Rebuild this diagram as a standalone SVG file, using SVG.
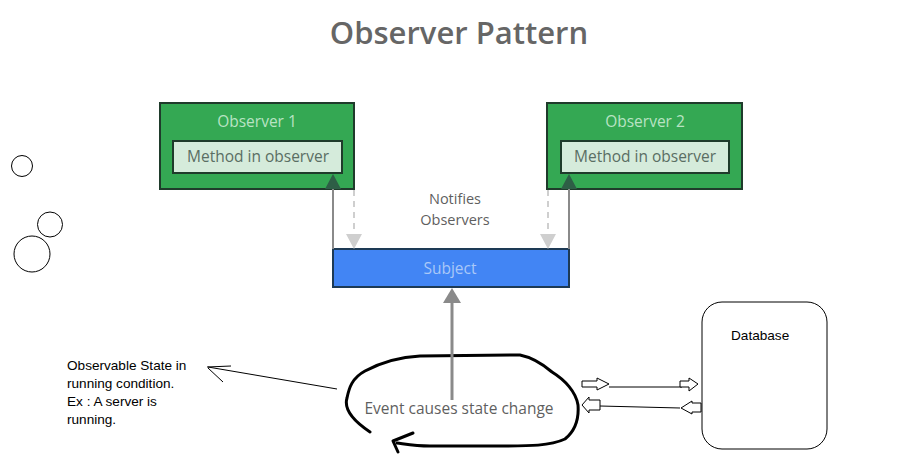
<svg xmlns="http://www.w3.org/2000/svg" width="898" height="461" viewBox="0 0 898 461">
<style>
.obs{fill:#34a853;stroke:#1f3b2b;stroke-width:2}
.inner{fill:#d5ebdb;stroke:#1f3b2b;stroke-width:2}
.otitle{font-family:"Open Sans",sans-serif;font-size:15.5px;fill:#b9e3c3;text-anchor:middle}
.mtext{font-family:"Open Sans",sans-serif;font-size:15.5px;fill:#5a6e63;text-anchor:middle}
.gray{font-family:"Open Sans",sans-serif;font-size:15.5px;fill:#5f5f5f;text-anchor:middle}
.note{font-family:"Liberation Sans",sans-serif;font-size:13.6px;fill:#000}
.thin{fill:none;stroke:#000;stroke-width:1}
.hollow{fill:#fff;stroke:#000;stroke-width:1}
</style>
<rect width="898" height="461" fill="#fff"/>
<text x="459" y="44" font-family="'Open Sans',sans-serif" font-size="31" font-weight="600" fill="#666" text-anchor="middle">Observer Pattern</text>

<g id="observer1">
<rect class="obs" x="160" y="103" width="194" height="86"/>
<text class="otitle" x="257" y="127">Observer 1</text>
<rect class="inner" x="173" y="141" width="169" height="32"/>
<text class="mtext" x="258" y="162">Method in observer</text>
</g>
<g id="observer2">
<rect class="obs" x="547" y="103" width="195" height="86"/>
<text class="otitle" x="645" y="127">Observer 2</text>
<rect class="inner" x="561" y="141" width="168" height="32"/>
<text class="mtext" x="645" y="162">Method in observer</text>
</g>
<g id="subject">
<rect x="333" y="249" width="236" height="38" fill="#4285f4" stroke="#1d3a55" stroke-width="2"/>
<text x="450" y="274" font-family="'Open Sans',sans-serif" font-size="15.5" fill="#aac8f8" text-anchor="middle">Subject</text>
</g>
<g id="notifies">
<text class="gray" font-size="14.5" style="font-size:14.5px"><tspan x="455" y="204">Notifies</tspan><tspan x="455" y="225">Observers</tspan></text>
</g>
<g id="event">
<text class="gray" x="459" y="414" fill="#6b6b6b">Event causes state change</text>
<path d="M370,432 C352,420 344,408 347,398 C349,388 352,378 365,371 C380,363 400,357 420,356 L520,355 C535,358 545,366 552,372 C565,380 576,392 578,405 C579,418 576,430 565,439 C550,446 530,446 500,446 L430,446 C415,446 405,444 397,443" fill="none" stroke="#000" stroke-width="3" stroke-linejoin="round" stroke-linecap="round"/>
<path d="M413,433 L393,441 L398,452" fill="none" stroke="#000" stroke-width="3" stroke-linejoin="round" stroke-linecap="round"/>
</g>
<g id="connectors">
<line x1="333" y1="249" x2="333" y2="183" stroke="#8a8a8a" stroke-width="2"/>
<path d="M325,189 L333,174 L341,189 Z" fill="#2e5e46"/>
<line x1="569" y1="249" x2="569" y2="183" stroke="#8a8a8a" stroke-width="2"/>
<path d="M561,189 L569,174 L577,189 Z" fill="#2e5e46"/>
<line x1="354" y1="190" x2="354" y2="236" stroke="#cfcfcf" stroke-width="2" stroke-dasharray="6,5"/>
<path d="M346,234 L354,249 L362,234 Z" fill="#cfcfcf"/>
<line x1="548" y1="190" x2="548" y2="236" stroke="#cfcfcf" stroke-width="2" stroke-dasharray="6,5"/>
<path d="M540,234 L548,249 L556,234 Z" fill="#cfcfcf"/>
<line x1="452" y1="400" x2="452" y2="300" stroke="#8a8a8a" stroke-width="3"/>
<path d="M443,303 L452,288 L461,303 Z" fill="#8a8a8a"/>
<line class="thin" x1="337" y1="389" x2="208" y2="367"/>
<line class="thin" x1="207" y1="367" x2="231" y2="366"/>
<line class="thin" x1="208" y1="368" x2="223" y2="382"/>
<line class="thin" x1="609" y1="387" x2="682" y2="387"/>
<path class="hollow" d="M582,381 L597,381 L597,378 L609,384 L597,390 L597,387 L582,387 Z"/>
<path class="hollow" d="M680,381 L689,381 L689,378 L698,384 L689,391 L689,387 L680,387 Z"/>
<line class="thin" x1="600" y1="406" x2="680" y2="408"/>
<path class="hollow" d="M600,400 L589,400 L589,397 L582,405 L589,413 L589,410 L600,410 Z"/>
<path class="hollow" d="M701,403 L692,403 L692,401 L681,408 L692,414 L692,412 L701,412 Z"/>
</g>
<g id="note">
<text class="note" x="67" y="370">Observable State in</text>
<text class="note" x="67" y="388">running condition.</text>
<text class="note" x="67" y="406">Ex : A server is</text>
<text class="note" x="67" y="424">running.</text>
</g>
<g id="database">
<rect x="702" y="302" width="125" height="147" rx="20" ry="20" fill="#fff" stroke="#000" stroke-width="1"/>
<text class="note" x="731" y="340">Database</text>
</g>
<g id="circles">
<circle cx="22" cy="166" r="10.5" class="thin"/>
<circle cx="50" cy="224.5" r="12.5" class="thin"/>
<circle cx="32" cy="254" r="18" class="thin"/>
</g>
</svg>
